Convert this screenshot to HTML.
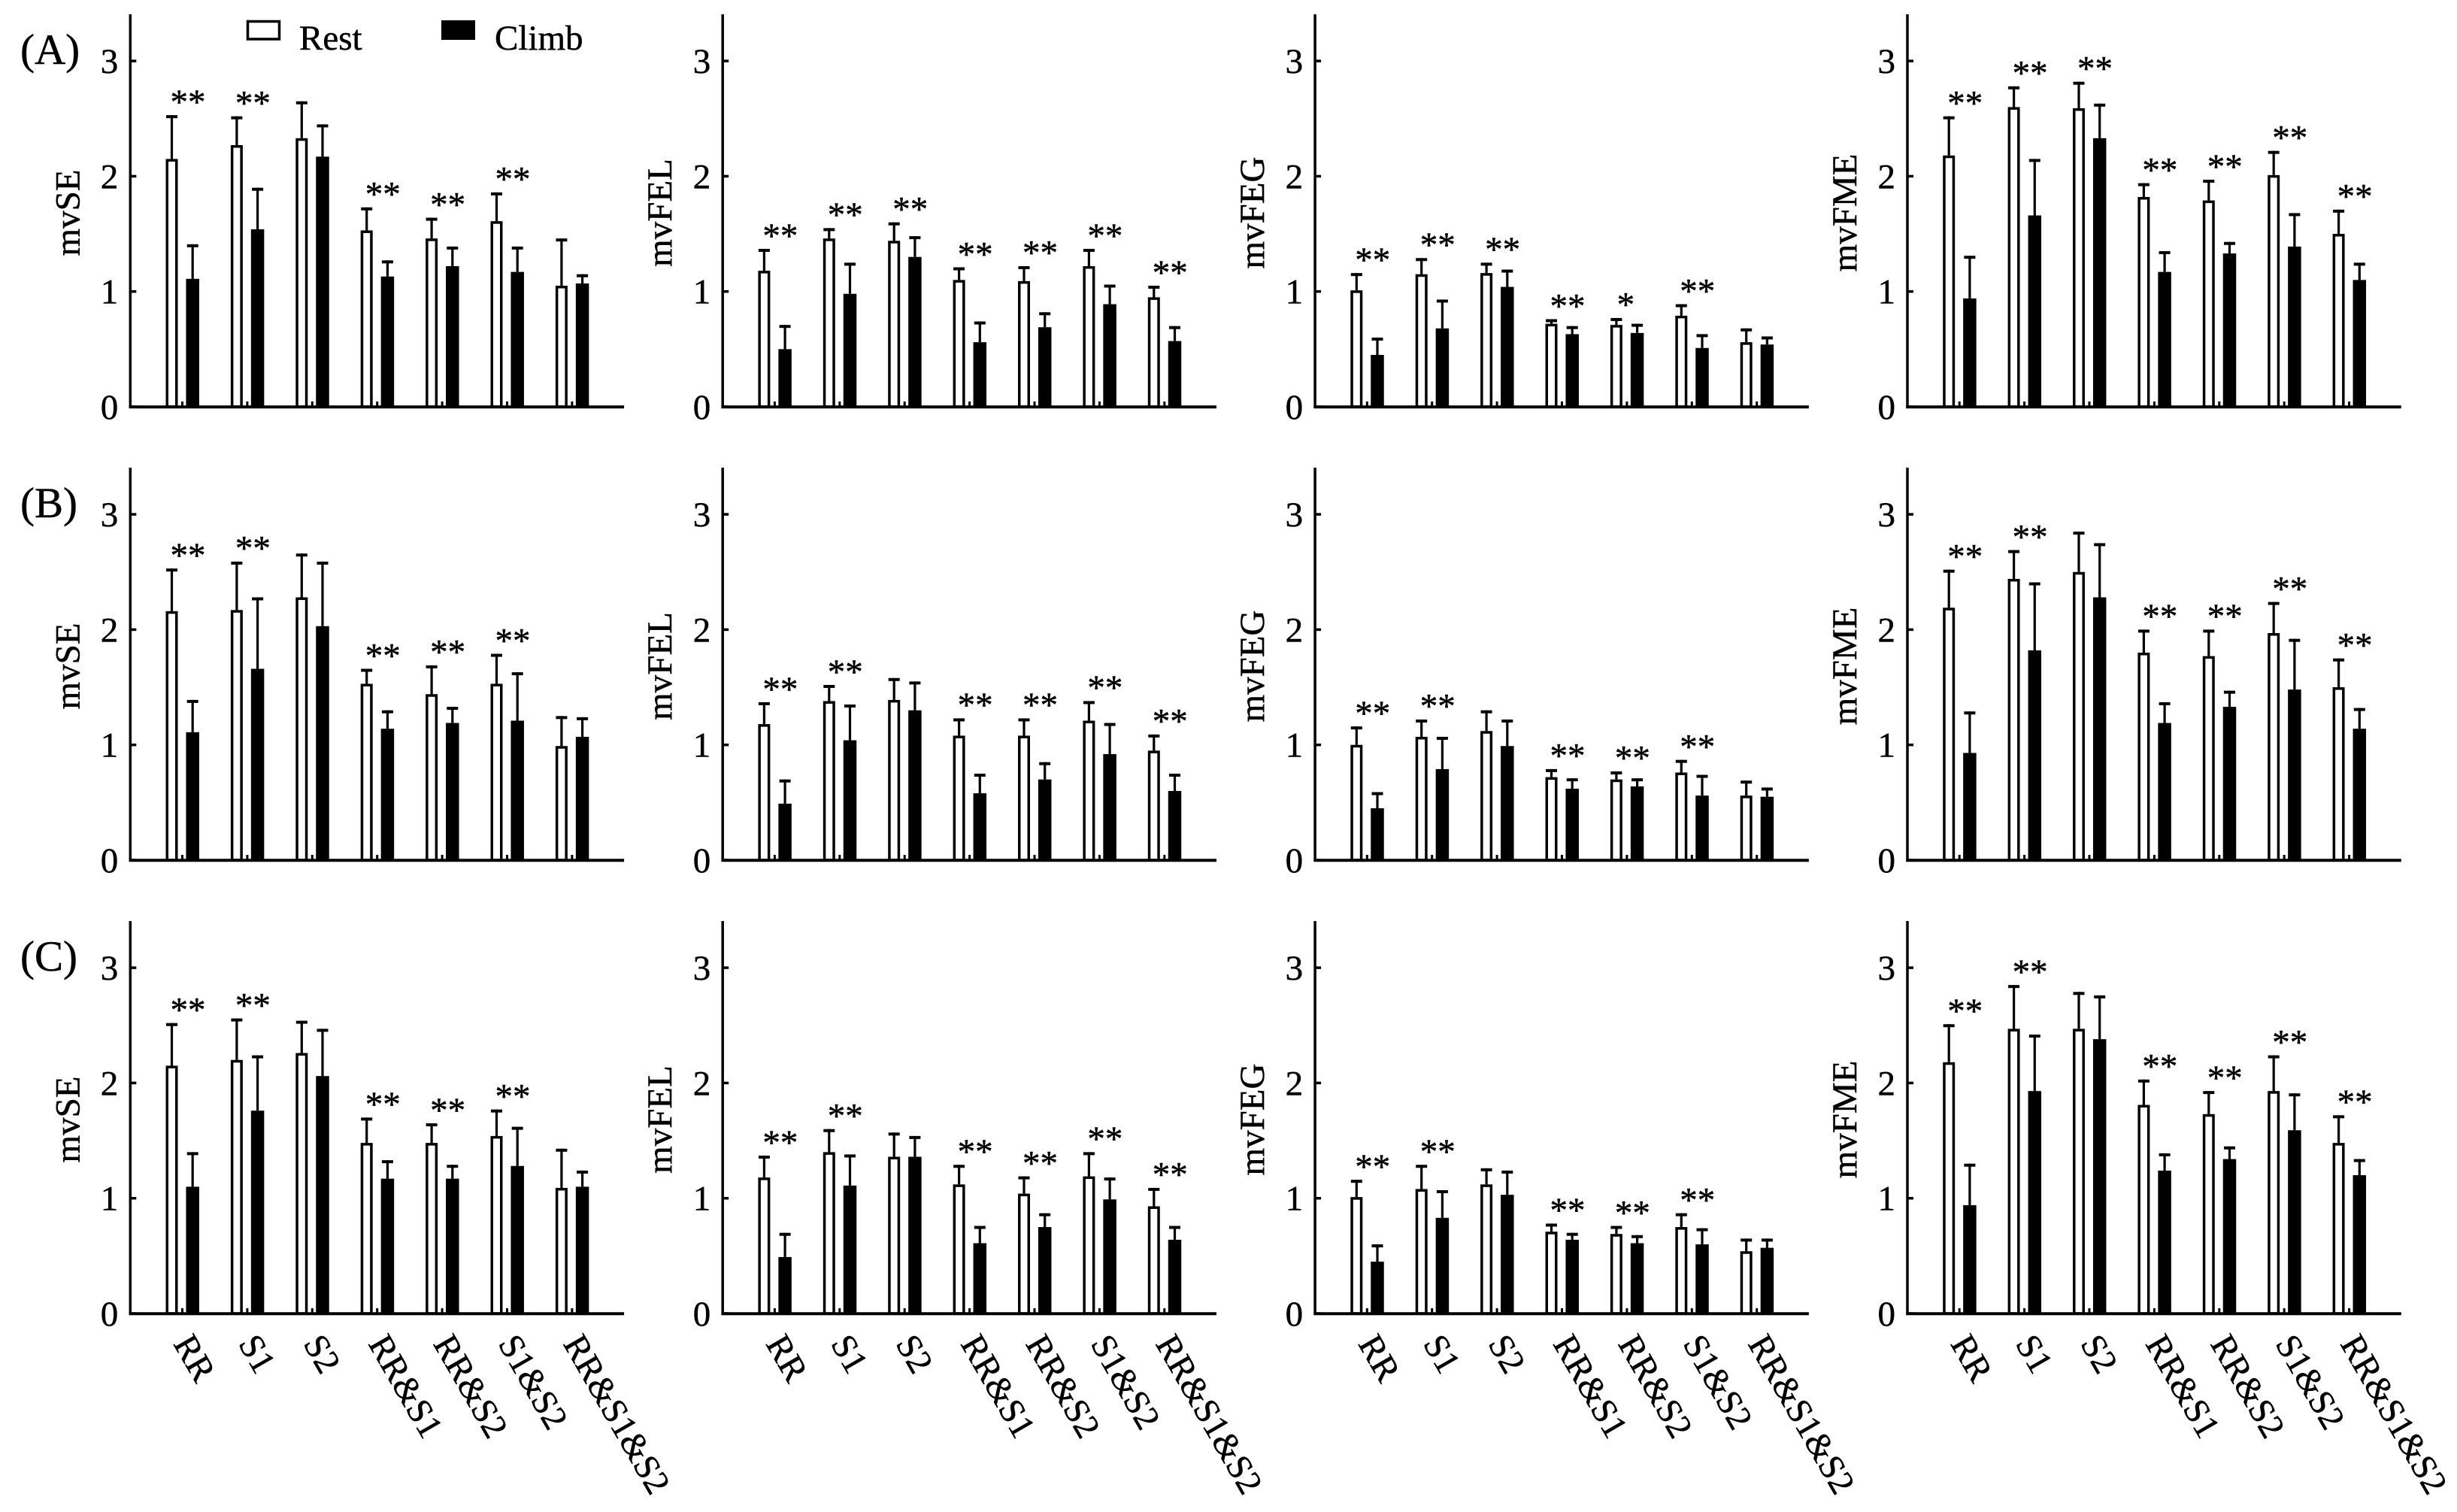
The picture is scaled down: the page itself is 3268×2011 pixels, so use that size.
<!DOCTYPE html>
<html lang="en">
<head>
<meta charset="utf-8">
<title>Rest vs Climb bar charts</title>
<style>
html,body{margin:0;padding:0;background:#fff;}
svg{display:block;}
text{font-family:"Liberation Serif","Times New Roman",serif;fill:#000;stroke:#000;stroke-width:.5px;}
</style>
</head>
<body>
<svg id="figure" xmlns="http://www.w3.org/2000/svg" width="3268" height="2011" viewBox="0 0 3268 2011">
  <rect x="0" y="0" width="3268" height="2011" fill="#fff"/>
  <g>
    <rect x="329.5" y="28.5" width="42" height="23.5" fill="#fff" stroke="#000" stroke-width="3.5"/>
    <text x="398" y="66" font-size="47">Rest</text>
    <rect x="587" y="27" width="45" height="26" fill="#000"/>
    <text x="658" y="66" font-size="47">Climb</text>
  </g>
  <text x="27" y="85" font-size="57">(A)</text>
  <text x="27" y="688" font-size="57">(B)</text>
  <text x="27" y="1291" font-size="57">(C)</text>
  <g id="panels"></g>
</svg>
<script>
const categories = ["RR","S1","S2","RR&S1","RR&S2","S1&S2","RR&S1&S2"];
const yTickLabels = [0,1,2,3];
const metrics = ["mvSE","mvFEL","mvFEG","mvFME"];

/* Row A */
const restA_SE   = [2.15,2.27,2.33,1.53,1.46,1.61,1.05];
const restErrA_SE= [2.53,2.52,2.65,1.73,1.64,1.86,1.46];
const climbA_SE  = [1.11,1.54,2.17,1.13,1.22,1.17,1.07];
const climbErrA_SE=[1.41,1.90,2.45,1.27,1.39,1.39,1.15];
const sigA_SE    = ["**","**","","**","**","**",""];

const restA_FEL   = [1.18,1.46,1.44,1.10,1.09,1.22,0.95];
const restErrA_FEL= [1.37,1.55,1.60,1.21,1.22,1.37,1.05];
const climbA_FEL  = [0.50,0.98,1.30,0.56,0.69,0.89,0.57];
const climbErrA_FEL=[0.71,1.25,1.48,0.74,0.82,1.06,0.70];
const sigA_FEL    = ["**","**","**","**","**","**","**"];

const restA_FEG   = [1.01,1.15,1.16,0.72,0.71,0.79,0.56];
const restErrA_FEG= [1.16,1.29,1.25,0.76,0.77,0.89,0.68];
const climbA_FEG  = [0.45,0.68,1.04,0.63,0.64,0.51,0.54];
const climbErrA_FEG=[0.60,0.93,1.19,0.70,0.72,0.63,0.61];
const sigA_FEG    = ["**","**","**","**","*","**",""];

const restA_FME   = [2.18,2.60,2.59,1.82,1.79,2.01,1.50];
const restErrA_FME= [2.52,2.78,2.82,1.94,1.97,2.22,1.71];
const climbA_FME  = [0.94,1.66,2.33,1.17,1.33,1.39,1.10];
const climbErrA_FME=[1.31,2.15,2.63,1.35,1.43,1.68,1.25];
const sigA_FME    = ["**","**","**","**","**","**","**"];

/* Row B */
const restB_SE   = [2.16,2.17,2.28,1.53,1.44,1.53,0.99];
const restErrB_SE= [2.53,2.59,2.66,1.66,1.69,1.79,1.25];
const climbB_SE  = [1.11,1.66,2.03,1.14,1.19,1.21,1.07];
const climbErrB_SE=[1.39,2.28,2.59,1.30,1.33,1.63,1.24];
const sigB_SE    = ["**","**","","**","**","**",""];

const restB_FEL   = [1.18,1.38,1.39,1.08,1.08,1.21,0.95];
const restErrB_FEL= [1.37,1.52,1.58,1.23,1.23,1.38,1.09];
const climbB_FEL  = [0.49,1.04,1.30,0.58,0.70,0.92,0.60];
const climbErrB_FEL=[0.70,1.35,1.55,0.75,0.85,1.19,0.75];
const sigB_FEL    = ["**","**","","**","**","**","**"];

const restB_FEG   = [1.00,1.07,1.12,0.72,0.70,0.76,0.56];
const restErrB_FEG= [1.16,1.22,1.30,0.79,0.77,0.87,0.69];
const climbB_FEG  = [0.45,0.79,0.99,0.62,0.64,0.56,0.55];
const climbErrB_FEG=[0.59,1.07,1.22,0.71,0.71,0.74,0.63];
const sigB_FEG    = ["**","**","","**","**","**",""];

const restB_FME   = [2.19,2.44,2.50,1.80,1.77,1.97,1.50];
const restErrB_FME= [2.52,2.69,2.85,2.00,2.00,2.24,1.75];
const climbB_FME  = [0.93,1.82,2.28,1.19,1.33,1.48,1.14];
const climbErrB_FME=[1.29,2.41,2.75,1.37,1.47,1.92,1.32];
const sigB_FME    = ["**","**","","**","**","**","**"];

/* Row C */
const restC_SE   = [2.15,2.20,2.26,1.48,1.48,1.54,1.09];
const restErrC_SE= [2.52,2.56,2.54,1.70,1.65,1.77,1.43];
const climbC_SE  = [1.10,1.76,2.06,1.17,1.17,1.28,1.10];
const climbErrC_SE=[1.40,2.24,2.47,1.33,1.29,1.62,1.24];
const sigC_SE    = ["**","**","","**","**","**",""];

const restC_FEL   = [1.18,1.40,1.36,1.12,1.04,1.19,0.93];
const restErrC_FEL= [1.37,1.60,1.57,1.29,1.19,1.40,1.09];
const climbC_FEL  = [0.49,1.11,1.36,0.61,0.75,0.99,0.64];
const climbErrC_FEL=[0.70,1.38,1.54,0.76,0.87,1.18,0.76];
const sigC_FEL    = ["**","**","","**","**","**","**"];

const restC_FEG   = [1.01,1.08,1.12,0.71,0.69,0.75,0.54];
const restErrC_FEG= [1.16,1.29,1.26,0.78,0.76,0.87,0.65];
const climbC_FEG  = [0.45,0.83,1.03,0.64,0.61,0.60,0.57];
const climbErrC_FEG=[0.60,1.07,1.24,0.70,0.68,0.74,0.65];
const sigC_FEG    = ["**","**","","**","**","**",""];

const restC_FME   = [2.18,2.47,2.47,1.81,1.73,1.93,1.48];
const restErrC_FME= [2.51,2.85,2.79,2.03,1.93,2.24,1.72];
const climbC_FME  = [0.94,1.93,2.38,1.24,1.34,1.59,1.20];
const climbErrC_FME=[1.30,2.42,2.76,1.39,1.45,1.91,1.34];
const sigC_FME    = ["**","**","","**","**","**","**"];

const panelData = [
  [
    [restA_SE,restErrA_SE,climbA_SE,climbErrA_SE,sigA_SE],
    [restA_FEL,restErrA_FEL,climbA_FEL,climbErrA_FEL,sigA_FEL],
    [restA_FEG,restErrA_FEG,climbA_FEG,climbErrA_FEG,sigA_FEG],
    [restA_FME,restErrA_FME,climbA_FME,climbErrA_FME,sigA_FME]
  ],
  [
    [restB_SE,restErrB_SE,climbB_SE,climbErrB_SE,sigB_SE],
    [restB_FEL,restErrB_FEL,climbB_FEL,climbErrB_FEL,sigB_FEL],
    [restB_FEG,restErrB_FEG,climbB_FEG,climbErrB_FEG,sigB_FEG],
    [restB_FME,restErrB_FME,climbB_FME,climbErrB_FME,sigB_FME]
  ],
  [
    [restC_SE,restErrC_SE,climbC_SE,climbErrC_SE,sigC_SE],
    [restC_FEL,restErrC_FEL,climbC_FEL,climbErrC_FEL,sigC_FEL],
    [restC_FEG,restErrC_FEG,climbC_FEG,climbErrC_FEG,sigC_FEG],
    [restC_FME,restErrC_FME,climbC_FME,climbErrC_FME,sigC_FME]
  ]
];

const NS = "http://www.w3.org/2000/svg";
function make(parent, tag, attrs, txt) {
  const el = document.createElementNS(NS, tag);
  for (const k in attrs) el.setAttribute(k, attrs[k]);
  if (txt !== undefined) el.textContent = txt;
  parent.appendChild(el);
  return el;
}

function drawPanel(root, r, c) {
  const [rest, restErr, climb, climbErr, sig] = panelData[r][c];
  const axisX = 173.3 + c * 787.9;
  const y0 = 541 + r * 603;
  const unit = 153.3;
  const yScale = v => y0 - v * unit;
  const xTick = i => axisX + 69.2 + i * 86.4;

  const g = make(root, "g", {});
  
  

  yTickLabels.forEach(t => {
    const y = yScale(t);
    const label = make(g, "text", {x: axisX - 16, y: y + 16, "font-size": 47, "text-anchor": "end"}, String(t));
    
    
    const tick = make(g, "rect", {x: axisX, y: y - 1.75, width: 8, height: 3.5, fill: "#000"});
    
    
  });

  const titleY = y0 - 258, titleX = axisX - 68;
  const title = make(g, "text", {
    x: titleX, y: titleY, "font-size": 47, "text-anchor": "middle",
    transform: "rotate(-90 " + titleX + " " + titleY + ")"
  }, metrics[c]);
  
  

  categories.forEach((cat, i) => {
    const tx = xTick(i);
    const restX = tx - 14, climbX = tx + 13.7;

    const restStem = make(g, "rect", {x: restX - 1.6, y: yScale(restErr[i]), width: 3.2, height: yScale(rest[i]) - yScale(restErr[i]), fill: "#000"});
    
    
    const restCap = make(g, "rect", {x: restX - 7.5, y: yScale(restErr[i]), width: 15, height: 4, fill: "#000"});
    
    

    const climbStem = make(g, "rect", {x: climbX - 1.6, y: yScale(climbErr[i]), width: 3.2, height: yScale(climb[i]) - yScale(climbErr[i]), fill: "#000"});
    
    
    const climbCap = make(g, "rect", {x: climbX - 7.5, y: yScale(climbErr[i]), width: 15, height: 4, fill: "#000"});
    
    

    const restBar = make(g, "rect", {x: restX - 6.25, y: yScale(rest[i]) + 1.75, width: 12.5, height: y0 - yScale(rest[i]) - 1.75, fill: "#fff", stroke: "#000", "stroke-width": 3.5});
    
    

    const climbBar = make(g, "rect", {x: climbX - 8.75, y: yScale(climb[i]), width: 17.5, height: y0 - yScale(climb[i]), fill: "#000"});
    
    

    const xt = make(g, "rect", {x: tx - 1.5, y: y0 - 7, width: 3, height: 7, fill: "#000"});
    
    

    if (sig[i]) {
      const starX = sig[i].length === 2 ? tx + 7.5 : tx - 1.5;
      const starY = yScale(restErr[i] + 0.145) + 20;
      const star = make(g, "text", {x: starX, y: starY, "font-size": 47, "text-anchor": "middle"}, sig[i]);
      
      
    }

    if (r === 2) {
      const lx = tx - 12.7, ly = y0 + 40;
      const catLabel = make(g, "text", {x: lx, y: ly, "font-size": 47, transform: "rotate(60 " + lx + " " + ly + ")"}, cat);
      
      
    }
  });

  const yAxis = make(g, "rect", {x: axisX - 1.75, y: y0 - 522, width: 3.5, height: 523.5, fill: "#000"});
  
  
  const xAxis = make(g, "rect", {x: axisX - 1.75, y: y0 - 1.75, width: 658.5, height: 4, fill: "#000"});
  
  
}

const panelsRoot = document.getElementById("panels");
for (let r = 0; r < 3; r++) {
  for (let c = 0; c < 4; c++) {
    drawPanel(panelsRoot, r, c);
  }
}
</script>
</body>
</html>
